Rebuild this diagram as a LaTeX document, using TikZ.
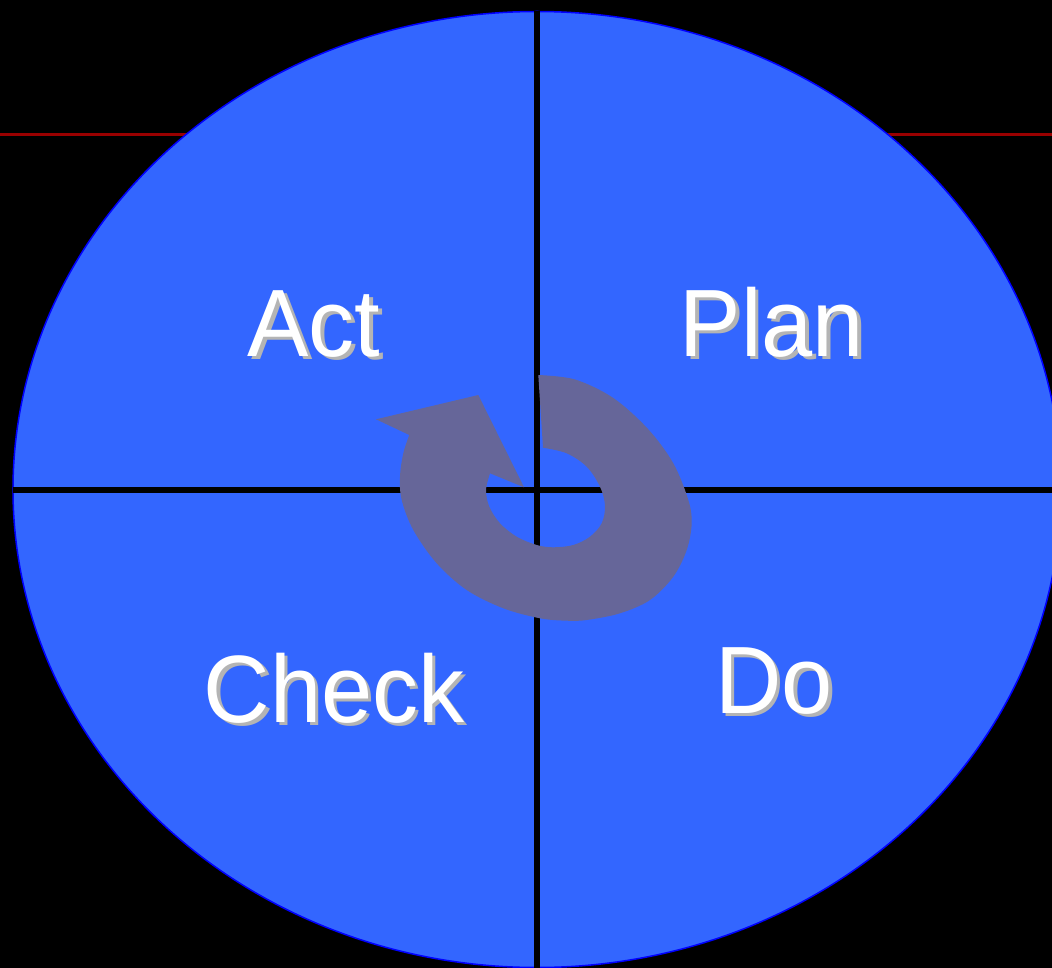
\documentclass[tikz,border=0pt]{standalone}
\usepackage{fontspec}
\setmainfont{Liberation Sans}
\usetikzlibrary{shapes.geometric}
\definecolor{quadblue}{HTML}{3366FF}
\definecolor{rimblue}{HTML}{0000FF}
\definecolor{cyclecol}{HTML}{666699}
\definecolor{rulered}{HTML}{990000}
\definecolor{shade}{HTML}{B4B4B4}
% white label with a grey drop shadow behind it
\newcommand\dropshadowtext[1]{\makebox[0pt][l]{\kern3.5pt\raisebox{-3.5pt}{\textcolor{shade}{#1}}}#1}
\tikzset{
  phase/.style={text=white, anchor=base, inner sep=0pt,
    font=\fontsize{92}{100}\selectfont, yscale=1.04},
  divider/.style={draw=black, line width=6pt},
}
\begin{document}
\begin{tikzpicture}[x=1pt, y=-1pt]
  \useasboundingbox (0,0) rectangle (1052,968);
  \fill[black] (0,0) rectangle (1052,968);
  % thin red rule behind the disc
  \coordinate (ruleL) at (0,134.5);
  \coordinate (ruleR) at (1052,134.5);
  \draw[rulered, line width=3pt] (ruleL) -- (ruleR);
  % the disc
  \node[ellipse, draw=rimblue, fill=quadblue, line width=1.5pt,
        minimum width=1048pt, minimum height=956pt, inner sep=0pt, outer sep=0pt]
        (disk) at (537,489.5) {};
  % quadrant dividers
  \draw[divider] (disk.north) -- (disk.south);
  \draw[divider, shorten >=-12pt] ([yshift=-0.5pt]disk.west) -- ([yshift=-0.5pt]disk.east);
  % circular arrow
  \fill[cyclecol]
    plot[smooth, tension=0.55] coordinates {(538.3,375) (575,379.5) (613.3,398) (648,429)
      (673.3,463.3) (688.3,500) (691.7,523.3) (686.7,550) (673.3,576.7) (650,600)
      (620,613.3) (586.7,620) (566.7,620.7) (540,618.3) (503.3,608.3) (466.7,590)
      (436.7,563.3) (413.3,530) (401.7,500) (400,476.7) (403.3,453.3) (409.3,435)}
    -- (376,419.3) -- (478.3,395) -- (524,487.3) -- (490,473.3)
    -- plot[smooth, tension=0.55] coordinates {(490,473.3) (486,490) (489.3,506.7) (500,523.3)
      (516.7,536.7) (536.7,545) (553.3,547.3) (573.3,545) (590,536.7) (601.7,523.3)
      (605,505.7) (600,486.7) (586.7,466.7) (566.7,453.3) (543,447.7)}
    -- cycle;
  % phase labels
  \node[phase] (act)   at (314,356) {\dropshadowtext{Act}};
  \node[phase] (plan)  at (772,356) {\dropshadowtext{Plan}};
  \node[phase] (check) at (334,722) {\dropshadowtext{Check}};
  \node[phase] (do)    at (774,713) {\dropshadowtext{Do}};
\end{tikzpicture}
\end{document}
